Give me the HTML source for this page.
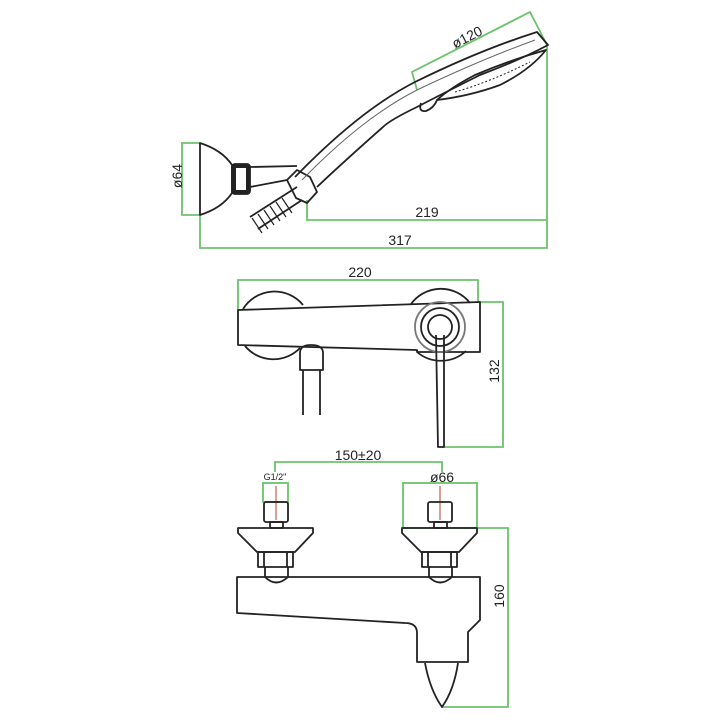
<!DOCTYPE html>
<html><head><meta charset="utf-8"><style>
html,body{margin:0;padding:0;background:#fff;width:720px;height:720px;overflow:hidden}
svg{display:block}
text{font-family:"Liberation Sans",sans-serif;fill:#222}
</style></head><body>
<svg width="720" height="720" viewBox="0 0 720 720" xmlns="http://www.w3.org/2000/svg">
<g fill="none" stroke="#6cc36c" stroke-width="1.8">
<polyline points="417,90 412,72 530,12 547,45"/>
<polyline points="200,143 182,143 182,215 200,215"/>
<polyline points="307,200 307,220 547,220"/>
<polyline points="200,215 200,248 547,248 547,45"/>
<polyline points="238,310 238,280 478,280 478,302"/>
<polyline points="480,302 503,302 503,447 442,447"/>
<polyline points="275,472 275,462 442,462 442,472"/>
<rect x="263" y="483" width="25" height="19"/>
<rect x="403" y="483" width="74" height="45"/>
<polyline points="477,528 508,528 508,707 442,707"/>
</g>
<g stroke="#c0604a" stroke-width="1.2">
<line x1="276" y1="486" x2="276" y2="520"/>
<line x1="440" y1="486" x2="440" y2="520"/>
</g>
<g fill="none" stroke="#222" stroke-width="1.8" stroke-linejoin="round">
<path d="M200,143 Q222,150 232,165 L232,193 Q222,208 200,215 Z"/>
<rect x="232" y="164" width="18" height="30" rx="3" fill="#222"/>
<rect x="236" y="168" width="10" height="22" fill="#fff" stroke="none"/>
<path d="M250,167 L297,166 M250,187 L287,180"/>
<path d="M250,217 L297,187 M258,229 L302,200"/>
<path d="M252,218 L262,233 M258,214 L268,229 M264,210 L274,225 M270,206 L280,221 M276,202 L286,217 M282,198 L292,213" stroke-width="1.2"/>
<path d="M287,180 L297,170 L310,177 L317,192 L307,203 L296,198 Z"/>
<path d="M295,177 Q360,110 415,82 Q480,50 537,32 L548,45 Q520,60 480,75 Q440,95 417,107 Q390,120 383,127 Q340,165 317,187"/>
<path d="M302,180 Q362,118 417,90 Q480,60 535,40" stroke-width="1" stroke="#666"/>
<path d="M546,50 Q510,60 475,75 Q450,88 437,100 Q470,96 500,85 Q530,70 546,50 Z"/>
<path d="M421,103 Q418,112 426,111 Q434,108 437,100" />
<path d="M455,92 Q490,82 530,62" stroke-dasharray="2,2" stroke-width="1"/>
<path d="M243,309 A37,37 0 0 1 303,305"/>
<path d="M245,346 A37,37 0 0 0 300,348"/>
<path d="M411,304 A37,37 0 0 1 470,303"/>
<path d="M417,352 A37,37 0 0 0 466,351"/>
<path d="M238,310 L480,302 L480,352 L417,352 L417,350 L238,345 Z"/>
<circle cx="440" cy="327" r="25" stroke="#777"/>
<circle cx="440" cy="327" r="19"/>
<circle cx="440" cy="327" r="12"/>
<path d="M436,335 L438,447 L444,447 L444,335"/>
<path d="M300,370 L300,353 Q300,345 311,345 Q323,345 323,353 L323,370 Z"/>
<path d="M303,370 L303,415 M320,370 L320,415"/>
<rect x="264" y="502" width="24" height="20" rx="2"/>
<rect x="270" y="522" width="13" height="6"/>
<path d="M238,528 L313,528 L313,533 L295,552 L257,552 L238,533 Z"/>
<rect x="258" y="552" width="35" height="15"/>
<path d="M264,552 L264,567 M287,552 L287,567"/>
<path d="M265,567 L265,577 Q276,588 288,577 L288,567"/>
<rect x="428" y="502" width="24" height="20" rx="2"/>
<rect x="434" y="522" width="13" height="6"/>
<path d="M402,528 L477,528 L477,533 L459,552 L421,552 L402,533 Z"/>
<rect x="422" y="552" width="35" height="15"/>
<path d="M428,552 L428,567 M451,552 L451,567"/>
<path d="M429,567 L429,577 Q440,588 452,577 L452,567"/>
<path d="M237,577 L480,577 L480,620 L468,632 L468,662 L417,662 L417,633 Q417,623 405,623 L237,613 Z"/>
<path d="M425,663 Q430,690 442,707 Q454,690 458,663"/>
</g>
<g font-size="14">
<text x="467" y="42" text-anchor="middle" transform="rotate(-27 467 37)">ø120</text>
<text x="182" y="184" text-anchor="middle" transform="rotate(-90 178 180)">ø64</text>
<text x="427" y="217" text-anchor="middle">219</text>
<text x="400" y="245" text-anchor="middle">317</text>
<text x="360" y="277" text-anchor="middle">220</text>
<text x="499" y="379" text-anchor="middle" transform="rotate(-90 495 375)">132</text>
<text x="358" y="460" text-anchor="middle">150±20</text>
<text x="442" y="482" text-anchor="middle">ø66</text>
<text x="504" y="604" text-anchor="middle" transform="rotate(-90 500 600)">160</text>
</g>
<text x="275" y="480" text-anchor="middle" font-size="9">G1/2"</text>
</svg>
</body></html>
